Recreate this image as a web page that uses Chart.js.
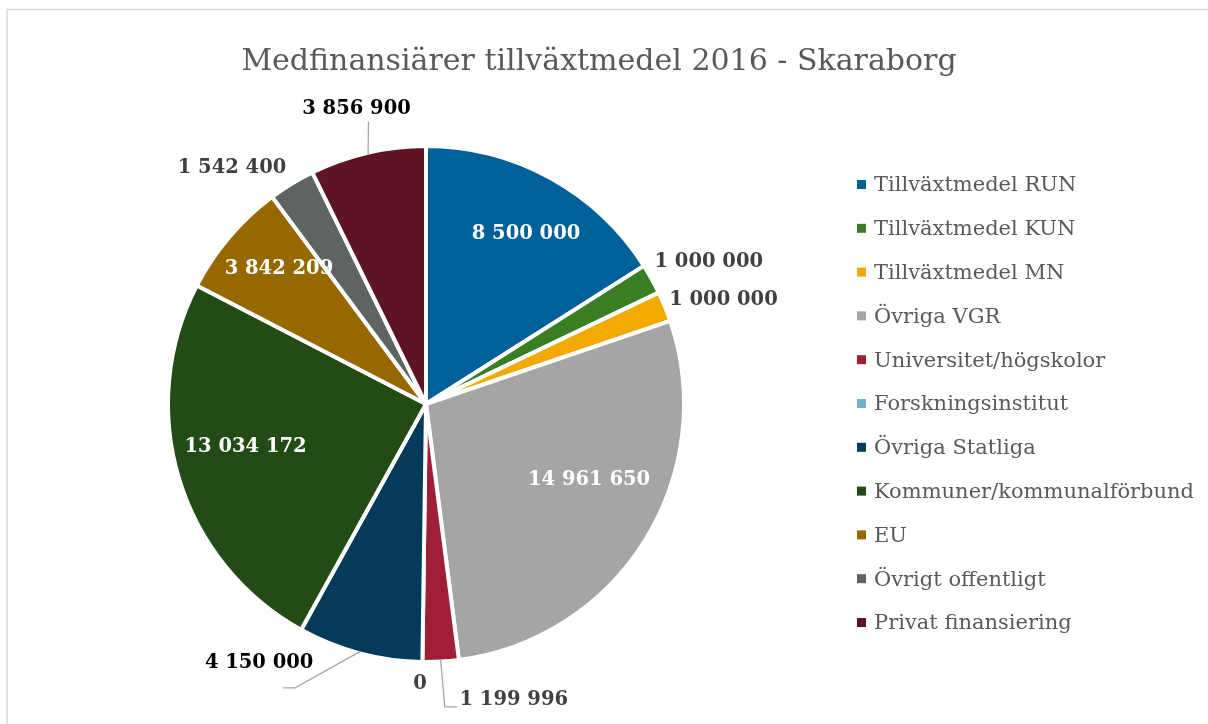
<!DOCTYPE html>
<html>
<head>
<meta charset="utf-8">
<script src="https://cdn.jsdelivr.net/npm/chart.js@4"></script>
<style>
  html, body { margin: 0; padding: 0; background: #ffffff; }
  #wrap { position: relative; width: 1208px; height: 724px; }
</style>
</head>
<body>
<div id="wrap"><canvas id="c" width="1208" height="724"></canvas></div>
<script>
// ---- data ----
const chartTitle = 'Medfinansiärer tillväxtmedel 2016 - Skaraborg';
const categories = [
  'Tillväxtmedel RUN', 'Tillväxtmedel KUN', 'Tillväxtmedel MN', 'Övriga VGR',
  'Universitet/högskolor', 'Forskningsinstitut', 'Övriga Statliga',
  'Kommuner/kommunalförbund', 'EU', 'Övrigt offentligt', 'Privat finansiering'
];
const values = [8500000, 1000000, 1000000, 14961650, 1199996, 0, 4150000, 13034172, 3842209, 1542400, 3856900];

// ---- styles ----
const sliceColors = ['#00609a', '#3b7d23', '#f3aa00', '#a3a5a6', '#9f2036', '#70b4cc',
                     '#043a5a', '#224b16', '#956800', '#606363', '#5e1423'];
const labelColors = ['#ffffff', '#404040', '#404040', '#ffffff', '#404040', '#404040',
                     '#000000', '#ffffff', '#ffffff', '#404040', '#000000'];
// label placement: fraction of radius along mid-angle, plus pixel nudge
const labelRadius = [0.77, 1.2, 1.2, 0.7, 1.15, 1.1, 1.2, 0.72, 0.8, 1.2, 1.2];
const labelNudge = [[5, 3], [14, 7], [13, 12], [11, -19], [71, 2], [-2, -2],
                    [-88, -38], [-4, -11], [9, -2], [-34, 26], [0, 4]];
// leader lines: points relative to label centre (drawn from arc edge)
const leaders = [null, null, null, null, [[-69, 7], [-57, 7]], null,
                 [[36, 25], [24, 25]], null, null, null, [[12, 13]]];

const SERIF = '"DejaVu Serif", "Liberation Serif", serif';

function fmt(v) {
  return String(v).replace(/\B(?=(\d{3})+(?!\d))/g, ' ');
}

const decorPlugin = {
  id: 'decor',
  beforeDraw(chart) {
    const ctx = chart.ctx;
    ctx.save();
    ctx.fillStyle = '#ffffff';
    ctx.fillRect(0, 0, chart.width, chart.height);
    ctx.strokeStyle = '#d9d9d9';
    ctx.lineWidth = 1.5;
    ctx.strokeRect(7, 9.5, chart.width + 20, chart.height + 20);
    // title
    ctx.fillStyle = '#595959';
    ctx.font = '30px ' + SERIF;
    ctx.textAlign = 'center';
    ctx.textBaseline = 'alphabetic';
    ctx.fillText(chartTitle, 599, 70);
    // legend
    ctx.font = '21px ' + SERIF;
    ctx.textAlign = 'left';
    ctx.textBaseline = 'middle';
    categories.forEach((name, i) => {
      const y = 185 + i * 43.8;
      ctx.fillStyle = sliceColors[i];
      ctx.fillRect(857, y - 5, 9, 9);
      ctx.fillStyle = '#595959';
      ctx.fillText(name, 874, y + 1);
    });
    ctx.restore();
  },
  afterDatasetsDraw(chart) {
    const ctx = chart.ctx;
    const meta = chart.getDatasetMeta(0);
    ctx.save();
    ctx.font = 'bold 19.5px ' + SERIF;
    ctx.textAlign = 'center';
    ctx.textBaseline = 'middle';
    meta.data.forEach((arc, i) => {
      const p = arc.getProps(['x', 'y', 'startAngle', 'endAngle', 'outerRadius']);
      const mid = (p.startAngle + p.endAngle) / 2;
      const r = p.outerRadius - 2;
      const lx = p.x + Math.cos(mid) * r * labelRadius[i] + labelNudge[i][0];
      const ly = p.y + Math.sin(mid) * r * labelRadius[i] + labelNudge[i][1];
      if (leaders[i]) {
        ctx.strokeStyle = '#a6a6a6';
        ctx.lineWidth = 1.3;
        ctx.beginPath();
        const ax = p.x + Math.cos(mid) * r;
        const ay = p.y + Math.sin(mid) * r;
        ctx.moveTo(ax, ay);
        leaders[i].forEach(pt => ctx.lineTo(lx + pt[0], ly + pt[1]));
        ctx.stroke();
      }
      ctx.fillStyle = labelColors[i];
      ctx.fillText(fmt(values[i]), lx, ly);
    });
    ctx.restore();
  }
};

new Chart(document.getElementById('c'), {
  type: 'pie',
  data: {
    labels: categories,
    datasets: [{
      data: values,
      backgroundColor: sliceColors,
      borderColor: '#ffffff',
      borderWidth: 4
    }]
  },
  options: {
    responsive: false,
    animation: false,
    devicePixelRatio: 1,
    layout: { padding: { left: 166, top: 144, right: 522, bottom: 60 } },
    plugins: {
      legend: { display: false },
      title: { display: false },
      tooltip: { enabled: false }
    }
  },
  plugins: [decorPlugin]
});
</script>
</body>
</html>
